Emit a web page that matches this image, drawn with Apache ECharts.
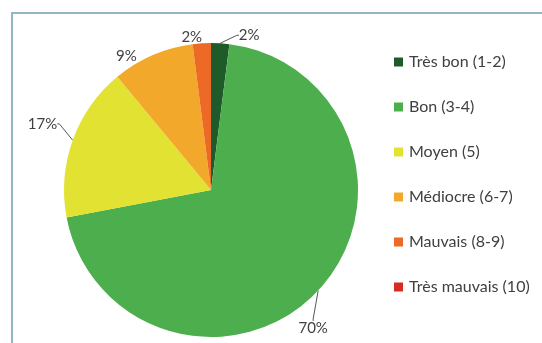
<!DOCTYPE html>
<html>
<head>
<meta charset="utf-8">
<style>
  html, body { margin: 0; padding: 0; background: #ffffff; }
  #chart { width: 542px; height: 343px; }
</style>
<script src="https://cdn.jsdelivr.net/npm/echarts@6/dist/echarts.min.js"></script>
</head>
<body>
<div id="chart"></div>
<script>
// Rating groups and their share of answers (percent)
const categories = ['Très bon (1-2)', 'Bon (3-4)', 'Moyen (5)', 'Médiocre (6-7)', 'Mauvais (8-9)', 'Très mauvais (10)'];
const values = [2, 70, 17, 9, 2, 0];
const colors = ['#1f5a2b', '#4cae4c', '#e2e232', '#f2a92b', '#ec6a25', '#d52b22'];

// Nudges for the outside percentage labels (px), per slice
const labelShift = [[11, 2], [-34, 31], [1, -13], [-5, 10], [8, 4], [0, 0]];
// Slices whose label keeps a leader line
const withLeader = [true, true, true, false, false, false];

const chart = echarts.init(document.getElementById('chart'), null, { renderer: 'canvas' });

const data = categories.map((name, i) => ({
  name,
  value: values[i],
  itemStyle: { color: colors[i] },
  label: { show: values[i] > 0 },
  labelLine: { show: values[i] > 0 && withLeader[i] }
}));

chart.setOption({
  animation: false,
  backgroundColor: '#ffffff',
  graphic: [{
    type: 'rect',
    shape: { x: 12, y: 13, width: 600, height: 400 },
    style: { fill: 'none', stroke: '#93b5ca', lineWidth: 2 },
    z: -1
  }],
  legend: {
    orient: 'vertical',
    left: 389,
    top: 49,
    itemWidth: 9,
    itemHeight: 9,
    itemGap: 29,
    icon: 'rect',
    selectedMode: false,
    textStyle: { fontFamily: 'Lato', fontSize: 16, lineHeight: 16, color: '#404040', padding: [0, 0, 0, 1] },
    data: categories
  },
  series: [{
    type: 'pie',
    center: [211, 190],
    radius: 147,
    startAngle: 90,
    clockwise: true,
    avoidLabelOverlap: false,
    label: {
      position: 'outside',
      formatter: '{d}%',
      fontFamily: 'Lato',
      fontSize: 15,
      color: '#404040'
    },
    labelLine: {
      length: 10,
      length2: 2,
      lineStyle: { color: '#555555', width: 1 }
    },
    labelLayout: function (p) {
      const s = labelShift[p.dataIndex] || [0, 0];
      const r = p.labelRect;
      return { x: r.x + r.width / 2 + s[0], y: r.y + r.height / 2 + s[1], align: 'center', verticalAlign: 'middle' };
    },
    data
  }]
});
</script>
</body>
</html>
